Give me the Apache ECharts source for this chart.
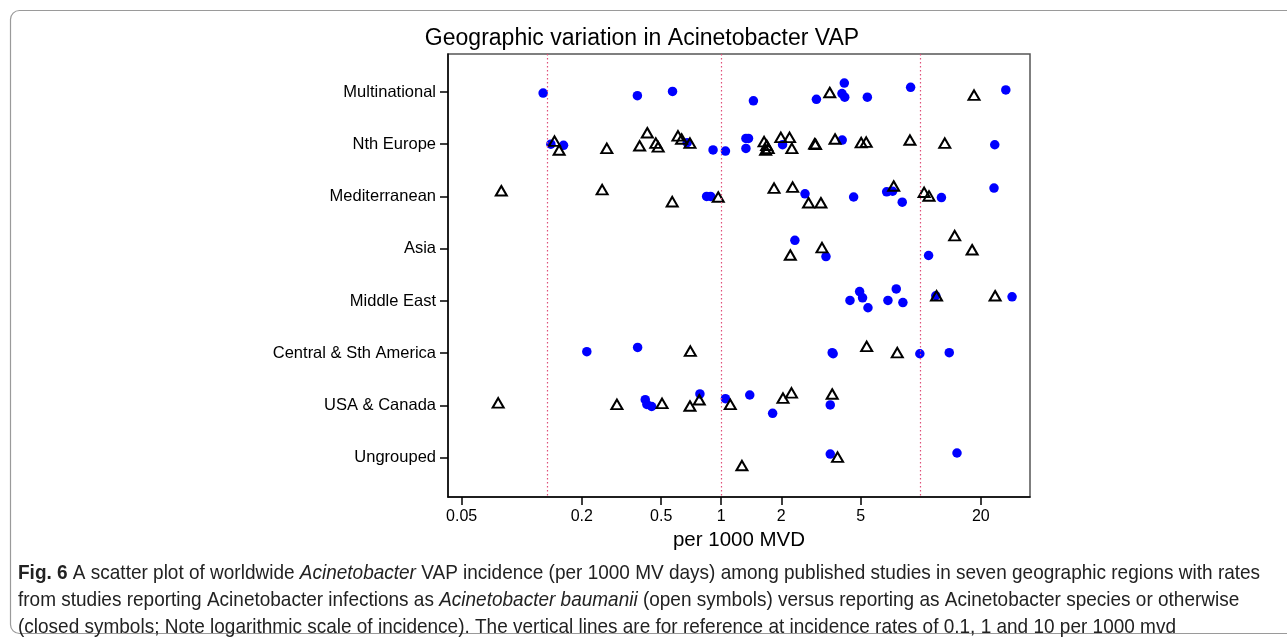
<!DOCTYPE html>
<html>
<head>
<meta charset="utf-8">
<script src="https://cdn.jsdelivr.net/npm/echarts@6/dist/echarts.min.js"></script>
<style>
html,body{margin:0;padding:0;background:#fff;}
#chart{width:1287px;height:643px;}
</style>
</head>
<body>
<div id="chart"></div>
<script>
// ---------- data ----------
const regions = ['Multinational', 'Nth Europe', 'Mediterranean', 'Asia', 'Middle East', 'Central & Sth America', 'USA & Canada', 'Ungrouped'];

// closed symbols: Acinetobacter species / otherwise (per 1000 MVD)
const speciesVals = [
  [0.128, 0.38, 0.57, 1.45, 3.0, 4.14, 4.03, 4.16, 5.4, 8.9, 26.7],
  [0.140, 0.162, 0.675, 0.91, 1.05, 1.33, 1.37, 1.33, 2.03, 4.04, 23.5],
  [0.845, 0.885, 2.63, 4.61, 6.75, 7.23, 8.08, 12.7, 23.3],
  [2.34, 3.35, 10.95],
  [4.42, 4.94, 5.11, 5.44, 6.85, 7.54, 8.14, 11.9, 28.7],
  [0.212, 0.381, 3.6, 3.64, 9.9, 13.9],
  [0.416, 0.424, 0.448, 0.782, 1.05, 1.39, 1.81, 3.52],
  [3.52, 15.2]
];
const speciesJitter = [
  [0.02, 0.07, -0.01, 0.17, 0.14, -0.17, 0.03, 0.10, 0.10, -0.09, -0.04],
  [0.00, 0.02, -0.03, 0.11, 0.13, -0.11, -0.11, 0.08, 0.01, -0.08, 0.01],
  [0.00, 0.00, -0.05, 0.01, -0.09, -0.10, 0.11, 0.02, -0.16],
  [-0.16, 0.15, 0.13],
  [-0.01, -0.18, -0.06, 0.13, -0.01, -0.23, 0.03, -0.10, -0.08],
  [-0.03, -0.11, -0.01, 0.01, 0.01, -0.01],
  [-0.11, -0.02, 0.02, -0.22, -0.13, -0.20, 0.15, -0.01],
  [-0.07, -0.09]
];

// open symbols: Acinetobacter baumanii (per 1000 MVD)
const baumaniiVals = [
  [3.5, 18.5],
  [0.146, 0.154, 0.267, 0.39, 0.426, 0.47, 0.483, 0.607, 0.633, 0.697, 1.64, 1.69, 1.72, 1.67, 1.99, 2.2, 2.26, 2.94, 2.97, 3.72, 5.03, 5.33, 8.83, 13.2],
  [0.079, 0.253, 0.568, 0.966, 1.84, 2.28, 2.74, 3.16, 7.32, 10.4, 11.0],
  [2.22, 3.2, 14.8, 18.1],
  [12.0, 23.6],
  [0.70, 5.36, 7.63],
  [0.0762, 0.30, 0.505, 0.697, 0.776, 1.11, 2.04, 2.25, 3.60],
  [1.27, 3.83]
];
const baumaniiJitter = [
  [0.01, 0.06],
  [-0.06, 0.11, 0.08, 0.03, -0.22, -0.02, 0.05, -0.16, -0.10, -0.02, -0.05, 0.02, 0.08, 0.11, -0.13, -0.13, 0.08, -0.01, 0.00, -0.10, -0.03, -0.04, -0.08, -0.02],
  [-0.11, -0.13, 0.10, 0.01, -0.16, -0.18, 0.12, 0.12, -0.20, -0.08, -0.01],
  [0.12, -0.02, -0.25, 0.02],
  [-0.10, -0.10],
  [-0.04, -0.13, -0.01],
  [-0.05, -0.02, -0.04, 0.01, -0.11, -0.02, -0.14, -0.24, -0.22],
  [0.15, -0.01]
];

const tickVals = [0.05, 0.2, 0.5, 1, 2, 5, 20];
const tickLabels = ['0.05', '0.2', '0.5', '1', '2', '5', '20'];
const refLines = [0.135, 1, 10];
const xRange = [0.0427, 35.3];

const captionLines = [
  '{b|Fig. 6} A scatter plot of worldwide {i|Acinetobacter} VAP incidence (per 1000 MV days) among published studies in seven geographic regions with rates',
  'from studies reporting Acinetobacter infections as {i|Acinetobacter baumanii} (open symbols) versus reporting as Acinetobacter species or otherwise',
  '(closed symbols; Note logarithmic scale of incidence). The vertical lines are for reference at incidence rates of 0.1, 1 and 10 per 1000 mvd'
];

// ---------- build ----------
const lg = v => Math.log10(v);
function pts(vals, jit) {
  const out = [];
  vals.forEach((arr, r) => arr.forEach((v, i) => out.push([lg(v), r + jit[r][i]])));
  return out;
}
const tickLog = tickVals.map(lg);

const font = '"Liberation Sans", Arial, Helvetica, sans-serif';
const capSize = 21;
// condense caption horizontally to the reference line width
const mctx = document.createElement('canvas').getContext('2d');
mctx.font = capSize + 'px "Liberation Sans"';
const plain1 = captionLines[0].replace(/\{[bi]\|([^}]*)\}/g, '$1');
const capScale = 1240 / mctx.measureText(plain1).width;

const chart = echarts.init(document.getElementById('chart'), null, {renderer: 'canvas'});

chart.setOption({
  animation: false,
  backgroundColor: '#fff',
  title: {
    text: 'Geographic variation in Acinetobacter VAP',
    left: 637, top: 22, textAlign: 'center',
    textStyle: {fontFamily: font, fontSize: 23, fontWeight: 'normal', color: '#000'}
  },
  grid: {left: 448, top: 54, width: 582, height: 443, show: true, borderColor: '#555', borderWidth: 1.5, backgroundColor: '#fff'},
  xAxis: {
    type: 'value',
    min: lg(xRange[0]), max: lg(xRange[1]),
    name: 'per 1000 MVD', nameLocation: 'middle', nameGap: 27,
    nameTextStyle: {fontFamily: font, fontSize: 20.5, color: '#000'},
    axisLine: {show: true, onZero: false, lineStyle: {color: '#000', width: 1.5}},
    axisTick: {show: true, inside: false, length: 8, customValues: tickLog, lineStyle: {color: '#000', width: 1.5}},
    axisLabel: {
      customValues: tickLog, margin: 12,
      fontFamily: font, fontSize: 16, color: '#000',
      formatter: v => { const k = tickLog.findIndex(t => Math.abs(t - v) < 1e-6); return k >= 0 ? tickLabels[k] : ''; }
    },
    splitLine: {show: false}
  },
  yAxis: {
    type: 'value', inverse: true,
    min: -0.727, max: 7.752,
    axisLine: {show: true, onZero: false, lineStyle: {color: '#000', width: 1.5}},
    axisTick: {show: true, inside: false, length: 8, customValues: regions.map((r, i) => i), lineStyle: {color: '#000', width: 1.5}},
    axisLabel: {
      customValues: regions.map((r, i) => i), margin: 12,
      fontFamily: font, fontSize: 16.5, color: '#000',
      formatter: v => regions[Math.round(v)] || ''
    },
    splitLine: {show: false}
  },
  series: [
    {
      type: 'scatter', name: 'Acinetobacter species',
      data: pts(speciesVals, speciesJitter),
      symbol: 'circle', symbolSize: 9.5,
      itemStyle: {color: '#0000ff', opacity: 1},
      z: 3,
      markLine: {
        silent: true, symbol: 'none', label: {show: false},
        lineStyle: {type: [1.5, 2.5], color: '#e0507a', width: 1.2},
        data: refLines.map(v => ({xAxis: lg(v)}))
      }
    },
    {
      type: 'scatter', name: 'Acinetobacter baumanii',
      data: pts(baumaniiVals, baumaniiJitter),
      symbol: 'triangle', symbolSize: [11, 9.5],
      itemStyle: {color: 'rgba(255,255,255,0)', borderColor: '#000', borderWidth: 2, opacity: 1},
      z: 4
    }
  ],
  graphic: [
    {
      type: 'rect', silent: true, z: -10,
      shape: {x: 10.5, y: 10.5, width: 1300, height: 623, r: 9},
      style: {fill: 'none', stroke: '#9a9a9a', lineWidth: 1.2}
    },
    {
      type: 'text', x: 18, y: 560, scaleX: capScale, scaleY: 1, silent: true,
      style: {
        text: captionLines.join('\n'),
        font: capSize + 'px "Liberation Sans"',
        fill: '#222',
        lineHeight: 27,
        rich: {
          b: {fontWeight: 'bold', fontSize: capSize, fontFamily: 'Liberation Sans', fill: '#222', lineHeight: 27},
          i: {fontStyle: 'italic', fontSize: capSize, fontFamily: 'Liberation Sans', fill: '#222', lineHeight: 27}
        }
      }
    }
  ]
});
</script>
</body>
</html>
